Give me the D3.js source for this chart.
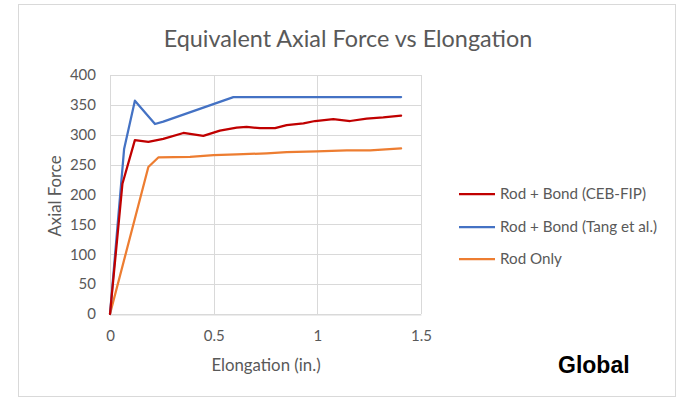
<!DOCTYPE html>
<html><head><meta charset="utf-8">
<script src="https://cdn.jsdelivr.net/npm/d3@7"></script>
<style>body{margin:0;background:#fff;} svg{display:block;}</style>
</head><body>
<svg id="c" width="679" height="399"></svg>
<script>
const seriesNames = ["Rod + Bond (CEB-FIP)", "Rod + Bond (Tang et al.)", "Rod Only"];
const seriesColors = ["#C00000", "#4472C4", "#ED7D31"];
const cebX = [0, 0.06, 0.12, 0.185, 0.257, 0.354, 0.45, 0.53, 0.611, 0.659, 0.724, 0.796, 0.852, 0.933, 0.989, 1.077, 1.158, 1.238, 1.318, 1.404];
const cebY = [0, 218, 291, 288, 293, 303, 298, 307, 312, 313, 311, 311, 316, 319, 323, 326, 323, 327, 329, 332];
const tangX = [0, 0.068, 0.12, 0.217, 0.257, 0.595, 1.404];
const tangY = [0, 276, 357, 318, 322, 363, 363];
const rodX = [0, 0.185, 0.233, 0.386, 0.5, 0.611, 0.756, 0.852, 0.997, 1.142, 1.255, 1.404];
const rodY = [0, 246, 262, 263, 266, 267, 269, 271, 272, 274, 274, 277];
const xTicks = [0, 0.5, 1, 1.5];
const yTicks = [0, 50, 100, 150, 200, 250, 300, 350, 400];

const svg = d3.select("#c");
const font = "Lato, 'Open Sans', sans-serif";
const grey = "#595959";

svg.append("rect").attr("x", 18.5).attr("y", 4.5).attr("width", 657).attr("height", 392)
  .attr("fill", "#fff").attr("stroke", "#d9d9d9").attr("stroke-width", 1);

const x = d3.scaleLinear().domain([0, 1.5]).range([110, 421]);
const y = d3.scaleLinear().domain([0, 400]).range([314, 75]);

// gridlines
svg.append("g").selectAll("line.h").data(yTicks).join("line")
  .attr("x1", x(0)).attr("x2", x(1.5)).attr("y1", d => Math.round(y(d)) + 0.5).attr("y2", d => Math.round(y(d)) + 0.5)
  .attr("stroke", "#d9d9d9").attr("stroke-width", 1);
svg.append("g").selectAll("line.v").data(xTicks).join("line")
  .attr("y1", y(0)).attr("y2", y(400)).attr("x1", d => Math.round(x(d)) + 0.5).attr("x2", d => Math.round(x(d)) + 0.5)
  .attr("stroke", "#d9d9d9").attr("stroke-width", 1);

// axes
const xAxis = d3.axisBottom(x).tickValues(xTicks).tickSize(0).tickPadding(16).tickFormat(d3.format("~g"));
const gx = svg.append("g").attr("transform", `translate(0,${Math.round(y(0)) + 0.5})`).call(xAxis);
gx.select(".domain").attr("stroke", "#d9d9d9");
gx.selectAll("text").attr("font-family", font).attr("font-size", 15).attr("fill", grey);

const yAxis = d3.axisLeft(y).tickValues(yTicks).tickSize(0).tickPadding(14);
const gy = svg.append("g").attr("transform", `translate(${x(0)},0)`).call(yAxis);
gy.select(".domain").remove();
gy.selectAll("text").attr("font-family", font).attr("font-size", 15).attr("fill", grey);

// lines
const line = d3.line().x(d => x(d[0])).y(d => y(d[1]));
const data = [
  d3.zip(cebX, cebY),
  d3.zip(tangX, tangY),
  d3.zip(rodX, rodY)
];
const order = [2, 1, 0];
order.forEach(i => {
  svg.append("path").datum(data[i]).attr("d", line).attr("fill", "none")
    .attr("stroke", seriesColors[i]).attr("stroke-width", 2.25).attr("stroke-linejoin", "round").attr("stroke-linecap", "round");
});

// title
svg.append("text").attr("x", 348).attr("y", 47).attr("text-anchor", "middle")
  .attr("font-family", font).attr("font-size", 23.4).attr("fill", grey).text("Equivalent Axial Force vs Elongation");

// axis titles
svg.append("text").attr("x", 266).attr("y", 371).attr("text-anchor", "middle")
  .attr("font-family", font).attr("font-size", 16.8).attr("fill", grey).text("Elongation (in.)");
svg.append("text").attr("transform", "translate(61,196) rotate(-90)").attr("text-anchor", "middle")
  .attr("font-family", font).attr("font-size", 16.8).attr("fill", grey).text("Axial Force");

// legend
const legY = [194, 227, 259];
seriesNames.forEach((n, i) => {
  svg.append("line").attr("x1", 459).attr("x2", 495).attr("y1", legY[i]).attr("y2", legY[i])
    .attr("stroke", seriesColors[i]).attr("stroke-width", 2.25);
  svg.append("text").attr("x", 500).attr("y", legY[i] + 5).attr("font-family", font)
    .attr("font-size", 15.2).attr("fill", grey).text(n);
});

// Global label
svg.append("text").attr("x", 558).attr("y", 373).attr("font-family", "Arial, 'Liberation Sans', sans-serif")
  .attr("font-size", 23).attr("font-weight", "bold").attr("fill", "#000").text("Global");
</script>
</body></html>
